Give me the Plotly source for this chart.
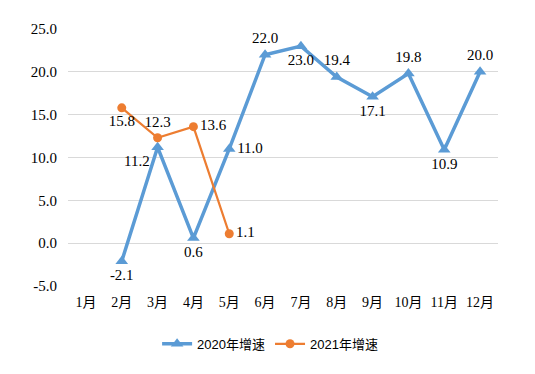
import plotly.graph_objects as go

months = ["1月", "2月", "3月", "4月", "5月", "6月", "7月", "8月", "9月", "10月", "11月", "12月"]
y_ticks = [-5, 0, 5, 10, 15, 20, 25]
y_tick_labels = ["-5.0", "0.0", "5.0", "10.0", "15.0", "20.0", "25.0"]

months_2020 = ["2月", "3月", "4月", "5月", "6月", "7月", "8月", "9月", "10月", "11月", "12月"]
growth_2020 = [-2.1, 11.2, 0.6, 11.0, 22.0, 23.0, 19.4, 17.1, 19.8, 10.9, 20.0]
pos_2020 = ["bottom center", "bottom left", "bottom center", "middle right", "top center",
            "bottom center", "top center", "bottom center", "top center", "bottom center", "top center"]

months_2021 = ["2月", "3月", "4月", "5月"]
growth_2021 = [15.8, 12.3, 13.6, 1.1]
pos_2021 = ["bottom center", "top center", "middle right", "middle right"]

blue = "#5B9BD5"
orange = "#ED7D31"
serif = "Liberation Serif, Times New Roman, Noto Sans CJK SC"

fig = go.Figure()
fig.add_trace(go.Scatter(
    x=months_2020, y=growth_2020, name="2020年增速",
    mode="lines+markers+text",
    line=dict(color=blue, width=3.5),
    marker=dict(symbol="triangle-up", size=11, color=blue),
    text=[f"{v:.1f}" for v in growth_2020], textposition=pos_2020,
    textfont=dict(family=serif, size=15, color="#000000"),
    cliponaxis=False,
))
fig.add_trace(go.Scatter(
    x=months_2021, y=growth_2021, name="2021年增速",
    mode="lines+markers+text",
    line=dict(color=orange, width=2.25),
    marker=dict(symbol="circle", size=9, color=orange),
    text=[f"{v:.1f}" for v in growth_2021], textposition=pos_2021,
    textfont=dict(family=serif, size=15, color="#000000"),
    cliponaxis=False,
))

fig.update_layout(
    width=527, height=366,
    margin=dict(l=60, r=37, t=21, b=88, autoexpand=False),
    paper_bgcolor="white", plot_bgcolor="white",
    showlegend=True,
    legend=dict(orientation="h", x=0.47, xanchor="center", y=-0.225, yanchor="middle",
                font=dict(family="Liberation Sans, Noto Sans CJK SC", size=13, color="#000000"),
                itemwidth=30),
)
fig.update_xaxes(
    type="category", categoryorder="array", categoryarray=months,
    range=[-0.5, 11.5], automargin=False,
    showgrid=False, showline=False, zeroline=False,
    tickfont=dict(family=serif, size=14, color="#000000"),
    ticks="", ticklabelstandoff=6,
)
fig.update_yaxes(
    range=[-5, 25], tickvals=y_ticks, ticktext=y_tick_labels, automargin=False,
    showgrid=True, gridcolor="#D9D9D9", gridwidth=1,
    zeroline=False, showline=False,
    tickfont=dict(family=serif, size=15, color="#000000"),
    ticks="", ticklabelstandoff=10,
)

fig.write_html("out.html")
